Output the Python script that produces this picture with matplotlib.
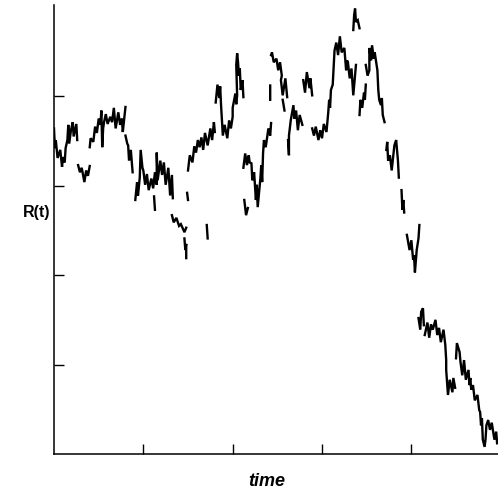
import numpy as np
import matplotlib
matplotlib.use("Agg")
import matplotlib.pyplot as plt

# R(t), cluster by cluster; nan = visible gap in the trace
gap = np.nan
time = [
    0.00, 0.01, 0.02, 0.04, 0.07, 0.09, 0.10, 0.12, 0.13, 0.15, 0.16, 0.17, 0.19, 0.21, 0.22, 0.25, 0.26, gap,
    0.27, 0.29, 0.31, 0.34, 0.36, 0.38, 0.40, gap,
    0.40, 0.41, 0.44, 0.46, 0.48, 0.50, 0.52, 0.53, 0.54, 0.55,
    0.56, 0.58, 0.60, 0.63, 0.65, 0.67, 0.69, 0.72, 0.74, 0.76, 0.77, 0.80, gap,
    0.80, 0.82, 0.83, 0.84, 0.86, 0.88, gap,
    0.91, 0.93, 0.94, 0.96, 0.97, 0.99, 1.00, 1.02, 1.04, 1.06, 1.09, 1.11, 1.13, 1.15,
    1.15, 1.16, 1.19, 1.21, 1.23, 1.25, 1.28, 1.30, 1.32, 1.33, gap,
    1.12, 1.13, gap,
    1.32, 1.34, 1.37, 1.40, 1.42, 1.46, 1.48, gap,
    1.46, 1.47, 1.48, 1.48, gap,
    1.49, 1.50, gap,
    1.50, 1.52, 1.55, 1.57, 1.59, 1.61, 1.63, 1.65, 1.67, 1.69, 1.72, 1.75, 1.77, 1.79, 1.80, gap,
    1.71, 1.72, gap,
    1.81, 1.83, 1.85, 1.86, 1.87, 1.88, 1.89, 1.91, 1.94, 1.96, 1.98, 2.00,
    2.00, 2.03, 2.04, 2.05, 2.04, 2.05, 2.06, 2.07, 2.08, 2.09, 2.11, 2.12, gap,
    2.12, 2.14, 2.16, 2.18, 2.19, 2.21, 2.22, 2.24, 2.26, 2.27, 2.28, 2.31, 2.32, 2.33,
    2.34, 2.35, 2.37, 2.40, 2.42, 2.43, gap,
    2.13, 2.15, 2.17, gap,
    2.42, 2.42, gap,
    2.43, 2.44, 2.46, 2.49, 2.51, 2.53, 2.55, 2.54, 2.56, 2.59, 2.61, gap,
    2.56, 2.58, gap,
    2.62, 2.63, 2.63, 2.65, 2.68, 2.69, 2.71, 2.73, 2.75, 2.78, gap,
    2.79, 2.81, 2.83, 2.86, 2.87, 2.89, gap,
    2.89, 2.91, 2.93, 2.96, 2.98, 3.00, 3.02, 3.05, 3.06, 3.07, 3.08, 3.09, 3.10, 3.12,
    3.14, 3.16, 3.18, 3.20, 3.22, 3.25, 3.27, 3.28, 3.29, 3.31, 3.33, 3.35, 3.37, 3.38, gap,
    3.35, 3.36, 3.37, 3.38, 3.40, 3.42, gap,
    3.42, 3.43, 3.45, 3.47, 3.48, 3.49, gap,
    3.49, 3.51, 3.53, 3.53, 3.55, 3.56, 3.58, 3.59, 3.62, 3.63, 3.64, 3.66, 3.67, 3.68, 3.70, gap,
    3.72, 3.73, 3.74, 3.76, 3.78, 3.81, 3.83, 3.85, 3.86, gap,
    3.89, 3.90, 3.91, 3.92, gap,
    3.95, 3.98, 4.00, 4.02, 4.03, 4.04, 4.06, 4.08, 4.09, gap,
    4.08, 4.10, 4.11, 4.13, 4.14, gap,
    4.15, 4.18, 4.20, 4.22, 4.24, 4.27, 4.29, 4.31, 4.33, 4.36, 4.38, 4.39,
    4.39, 4.41, 4.43, 4.46, 4.47, 4.49, gap,
    4.50, 4.51, 4.54, 4.55, 4.57, 4.59, 4.61, 4.64, 4.65, 4.66, 4.67, 4.69, 4.71, 4.74, 4.76,
    4.77, 4.78, 4.79, 4.80, 4.82, 4.83, 4.84, 4.86, 4.88, 4.90, 4.93, 4.95, 4.96,
]
r_t = [
    3.64, 3.42, 3.51, 3.31, 3.40, 3.21, 3.32, 3.26, 3.42, 3.51, 3.68, 3.47, 3.62, 3.71, 3.55, 3.69, 3.51, gap,
    3.23, 3.15, 3.20, 3.04, 3.17, 3.11, 3.22, gap,
    3.43, 3.53, 3.49, 3.66, 3.59, 3.75, 3.68, 3.84, 3.43, 3.64,
    3.71, 3.80, 3.69, 3.77, 3.71, 3.87, 3.64, 3.82, 3.68, 3.75, 3.60, 3.88, gap,
    3.56, 3.47, 3.45, 3.28, 3.40, 3.15, gap,
    2.84, 3.04, 2.89, 3.09, 3.40, 3.20, 3.17, 3.01, 3.13, 2.95, 3.08, 2.97, 3.15, 3.01,
    3.37, 3.06, 3.28, 3.12, 3.26, 3.01, 3.20, 2.89, 3.12, 2.86, gap,
    2.88, 2.73, gap,
    2.67, 2.59, 2.64, 2.55, 2.57, 2.48, 2.53, gap,
    2.41, 2.28, 2.35, 2.19, gap,
    2.92, 2.84, gap,
    3.17, 3.34, 3.26, 3.44, 3.37, 3.51, 3.43, 3.54, 3.40, 3.59, 3.45, 3.64, 3.51, 3.71, 3.60, gap,
    2.56, 2.41, gap,
    3.93, 4.13, 3.98, 4.11, 3.90, 3.73, 3.56, 3.68, 3.53, 3.73, 3.64, 3.77,
    3.87, 4.03, 3.91, 4.01, 4.35, 4.48, 4.38, 4.23, 4.31, 4.07, 4.18, 3.99, gap,
    3.20, 3.36, 3.23, 3.34, 3.26, 3.25, 3.06, 3.15, 2.84, 3.01, 2.76, 3.08, 3.23, 3.04,
    3.36, 3.51, 3.43, 3.64, 3.56, 3.70, gap,
    2.84, 2.67, 2.75, gap,
    4.12, 3.96, gap,
    4.46, 4.49, 4.38, 4.42, 4.29, 4.38, 4.23, 4.18, 4.01, 4.20, 3.99, gap,
    3.96, 3.84, gap,
    3.51, 3.34, 3.56, 3.73, 3.90, 3.75, 3.84, 3.62, 3.79, 3.68, gap,
    4.18, 4.04, 4.27, 4.09, 4.20, 4.01, gap,
    3.64, 3.56, 3.66, 3.51, 3.62, 3.53, 3.69, 3.60, 3.71, 3.82, 3.96, 3.87, 4.07, 4.13,
    4.51, 4.60, 4.46, 4.67, 4.49, 4.54, 4.29, 4.40, 4.38, 4.20, 4.31, 4.01, 4.23, 4.35, gap,
    4.74, 4.91, 4.98, 4.83, 4.85, 4.76, gap,
    3.79, 3.96, 3.87, 4.04, 3.96, 4.13, gap,
    4.35, 4.23, 4.29, 4.54, 4.40, 4.57, 4.42, 4.49, 4.29, 4.07, 3.96, 3.90, 3.98, 3.79, 3.71, gap,
    3.40, 3.49, 3.28, 3.34, 3.17, 3.45, 3.51, 3.28, 3.09, gap,
    2.95, 2.73, 2.84, 2.70, gap,
    2.45, 2.28, 2.39, 2.17, 2.22, 2.03, 2.28, 2.41, 2.56, gap,
    1.52, 1.39, 1.59, 1.63, 1.44, gap,
    1.33, 1.47, 1.30, 1.45, 1.39, 1.50, 1.33, 1.41, 1.25, 1.39, 1.22, 1.05,
    0.94, 0.66, 0.83, 0.69, 0.85, 0.74, gap,
    1.07, 1.24, 1.14, 1.03, 0.88, 1.05, 0.83, 0.94, 0.77, 0.85, 0.72, 0.77, 0.60, 0.66, 0.49,
    0.47, 0.32, 0.40, 0.16, 0.08, 0.16, 0.32, 0.38, 0.27, 0.35, 0.16, 0.25, 0.12,
]
x_ticks = [1, 2, 3, 4]
y_ticks = [1, 2, 3, 4]

fig = plt.figure(figsize=(4.98, 4.93), dpi=100)
ax = fig.add_axes([54 / 498, 39 / 493, 444 / 498, 449 / 493])

ax.plot(time, r_t, color='black', linewidth=1.7, solid_joinstyle='miter')

ax.set_xlim(0, 4.97)
ax.set_ylim(0, 5.02)
ax.set_xticks(x_ticks)
ax.set_yticks(y_ticks)
ax.set_xticklabels([])
ax.set_yticklabels([])
ax.tick_params(direction='in', length=7.5, width=1.0, color='black')

for side in ['top', 'right']:
    ax.spines[side].set_visible(False)
for side in ['left', 'bottom']:
    ax.spines[side].set_linewidth(1.1)
    ax.spines[side].set_color('black')

# axis labels placed like the printed figure
fig.text(37 / 498, 1 - 213 / 493, 'R(t)', ha='center', va='center',
         fontsize=11.5, fontweight='bold', family='Liberation Sans')
fig.text(267 / 498, 1 - 481 / 493, 'time', ha='center', va='center',
         fontsize=13, fontweight='bold', fontstyle='italic', family='Liberation Sans')

fig.savefig('out.png', dpi=100, facecolor='white')
